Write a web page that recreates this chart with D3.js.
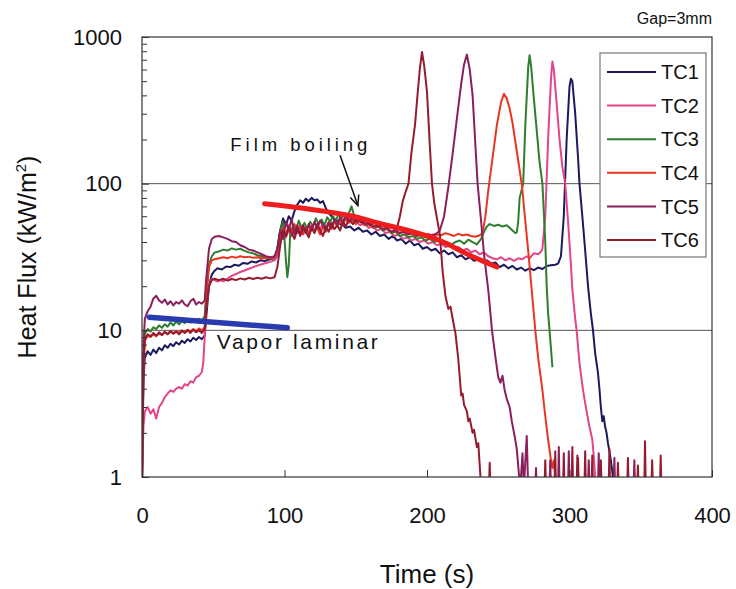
<!DOCTYPE html>
<html>
<head>
<meta charset="utf-8">
<script src="https://cdn.jsdelivr.net/npm/d3@7"></script>
<style>
  html, body { margin: 0; padding: 0; background: #fff; }
  svg { display: block; font-family: "Liberation Sans", Arial, sans-serif; }
</style>
</head>
<body>
<svg id="chart" width="736" height="589"></svg>
<script>
// Heat flux histories at six thermocouples (time in s, heat flux in kW/m²)
const tc1 = [[0,0.9],[1,4.5],[2,6.5],[4,7.2],[6,6.8],[8,7.4],[10,7.0],[12,7.6],[14,7.3],[16,7.9],[18,7.6],[20,8.1],[22,7.8],[24,8.3],[26,8.0],[28,8.5],[30,8.2],[32,8.7],[34,8.4],[36,8.9],[38,8.6],[40,9.0],[42,8.7],[44,9.2],[45,12],[47,20],[49,24],[51,25.5],[53,26.5],[56,26],[59,27.2],[62,27],[65,28],[68,27.6],[71,28.8],[74,28.4],[77,29.5],[80,29],[83,30],[86,29.7],[90,30.5],[93,31],[95,36],[97,48],[99,58],[101,52],[103,60],[105,56],[107,65],[109,72],[111,77],[113,74],[115,79],[117,76],[119,80],[121,77],[123,78],[125,74],[127,76],[129,68],[131,63],[133,60],[135,57],[137,56],[139,53],[141,52],[143,50],[146,51],[149,48],[152,50],[155,47],[158,48],[161,45],[164,47],[167,44],[170,45],[173,42],[176,44],[179,41],[182,42],[185,39],[188,41],[191,38],[194,39],[197,36],[200,37],[203,35],[206,36],[209,33.5],[212,35],[215,33],[218,34],[221,31.5],[224,32.5],[227,30.5],[230,31.5],[233,29.8],[236,30.5],[239,29],[242,30],[245,28.5],[248,29],[251,27],[254,28],[257,26.5],[260,27.5],[263,26],[266,26.8],[269,25.5],[272,26.5],[275,25.7],[278,26.8],[281,26.2],[284,27.5],[287,27.8],[290,28],[292,28.5],[294,32],[296,60],[298,200],[300,460],[301,520],[302,500],[304,300],[306,150],[307,100],[309,60],[311,35],[313,20],[315,13],[316.5,10],[318,7],[320,5.1],[321,4.0],[322,3.0],[323,2.4],[324,2.6],[325,2.2],[326,2.0],[327,1.7],[328,1.5],[329,1.3],[330,1.1],[331,0.85]];

const tc2 = [[0,0.9],[1,2.2],[2,2.8],[4,3.0],[6,2.7],[8,2.9],[10,2.5],[12,3.0],[14,3.2],[16,3.5],[18,3.7],[20,3.9],[22,3.8],[24,4.0],[26,4.1],[28,4.0],[30,4.3],[32,4.2],[34,4.5],[36,4.4],[38,4.8],[40,4.9],[42,5.2],[43,6],[44,9],[45,14],[47,20],[49,22.5],[51,22],[53,21.5],[55,22],[57,21.6],[60,22.5],[63,23.5],[66,24.2],[69,25],[72,25.6],[75,26.3],[78,27],[81,27.6],[84,28.2],[87,28.8],[90,29.3],[93,30],[95,32],[97,40],[99,46],[101,43],[103,48],[105,44],[107,50],[109,46],[111,52],[113,47],[115,51],[117,45],[119,50],[121,48],[123,53],[125,49],[127,54],[129,50],[131,55],[133,51],[135,56],[137,52],[139,57],[141,55],[143,62],[145,60],[147,55],[150,56],[153,52],[156,54],[159,50],[162,51],[165,48],[168,49],[171,46],[174,47],[177,44],[180,45],[183,42],[186,43],[189,41],[192,42],[195,40],[198,41],[201,39],[204,40],[207,38],[210,39],[213,37],[216,38],[219,36],[222,37],[225,35],[228,36],[231,34],[234,35],[237,33],[240,34],[243,32],[246,31],[249,30.5],[252,31.5],[255,30],[258,31],[261,29.8],[264,31],[267,30.5],[270,32],[272,31],[275,33.5],[278,33],[280,34.5],[281,36],[283,60],[285,200],[287,520],[288,680],[289,600],[291,350],[293,200],[295,130],[297,100],[299,55],[301,28],[302,19],[304,12],[305,10],[307,6],[309.5,3.9],[312,2.8],[314,2.2],[316,1.8],[317,1.4],[318,1.0],[319,0.85]];

const tc3 = [[0,0.9],[1,6],[2,9.5],[4,10.2],[6,9.8],[8,10.5],[10,10.2],[12,10.8],[14,10.4],[16,11.0],[18,10.6],[20,11.3],[22,10.8],[24,11.5],[26,11.0],[28,11.6],[30,11.2],[32,11.8],[34,11.3],[36,11.9],[38,11.5],[40,12.0],[42,11.6],[44,12.5],[45,18],[47,28],[49,32],[51,34],[54,34.5],[57,35.5],[60,35],[63,36.2],[66,35.5],[69,36],[72,34.8],[75,34],[78,33.5],[81,32.5],[84,32],[87,31.2],[90,30.8],[93,31.5],[95,36],[97,48],[99,55],[100,42],[101,30],[102,23],[103,28],[104,45],[106,52],[108,48],[110,56],[112,50],[114,54],[116,49],[118,55],[120,51],[122,58],[124,53],[126,57],[128,52],[130,59],[132,55],[134,60],[136,56],[138,62],[140,58],[142,63],[144,59],[146,66],[147,70],[149,60],[151,57],[154,55],[157,52],[160,53],[163,50],[166,51],[169,48],[172,49],[175,46],[178,47],[181,44],[184,45],[187,43],[190,44],[193,42],[196,43],[199,41],[202,42],[205,40],[208,41],[211,39],[214,40],[217,38.5],[220,40],[223,41],[226,39],[229,41.5],[232,40],[235,38.5],[238,42],[240,47],[242,51],[244,53],[247,51.5],[250,52.5],[253,51],[256,52],[258,50],[260,48],[262,46],[263,46.5],[264,55],[265,80],[267.5,100],[269,250],[271,620],[272,750],[273,640],[275,380],[277,230],[279,140],[281,100],[283,40],[284,20],[285,13],[286,10],[287,7.5],[288,5.6]];

const tc4 = [[0,0.9],[1,5],[2,8.5],[4,9.2],[6,9.0],[8,9.4],[10,9.1],[12,9.5],[14,9.3],[16,9.7],[18,9.4],[20,9.8],[22,9.5],[24,9.9],[26,9.6],[28,10.0],[30,9.7],[32,10.1],[34,9.8],[36,10.2],[38,9.9],[40,10.3],[42,10.0],[44,10.5],[45,16],[47,27],[49,30],[51,30.5],[54,31],[57,31.5],[60,31],[63,31.8],[66,31.3],[69,32],[72,31.5],[75,31.8],[78,31.2],[81,31.5],[84,31],[87,31.2],[90,31],[93,31.5],[95,34],[97,42],[99,50],[101,45],[103,52],[105,46],[107,53],[109,47],[111,51],[113,45],[115,50],[117,46],[119,52],[121,47],[123,50],[125,45],[127,51],[129,47],[131,54],[133,49],[135,55],[137,51],[139,56],[141,52],[143,58],[145,54],[147,57],[150,53],[153,56],[156,52],[159,54],[162,50],[165,52],[168,49],[171,50],[174,47],[177,48],[180,46],[183,47],[186,45],[189,46],[192,44],[195,45],[198,44],[201,45.5],[204,44],[207,45],[210,44.5],[213,46],[216,45],[219,44],[222,45.5],[225,44.5],[228,45],[231,44],[234,43.5],[237,44.5],[239,46],[241,60],[243,90],[246,150],[249,250],[252,360],[254,410],[256,380],[258,325],[260,260],[263,167],[266.7,96],[268,70],[271,35],[273.5,18.8],[276,10],[278,6.5],[281,3.9],[283,2.6],[285,1.8],[287,1.3],[288,1.15],[289,1.3],[290,1.0],[291,0.85]];

const tc5 = [[0,0.9],[1,8],[2,12],[4,13.5],[6,14.5],[8,16.5],[10,17.2],[12,16.0],[14,15.4],[16,16.2],[18,15.0],[20,15.8],[22,14.8],[24,15.6],[26,15.2],[28,16.0],[30,15.0],[32,14.6],[34,15.8],[36,16.4],[38,15.0],[40,15.6],[42,15.2],[44,16.0],[45,22],[47,36],[49,42],[51,43.5],[54,44],[57,43],[60,42],[63,40.5],[66,40],[69,38],[72,37],[75,35.5],[78,35],[81,34],[84,33],[87,32],[90,31.5],[93,32],[95,36],[97,48],[99,42],[101,55],[103,48],[105,58],[107,45],[109,52],[111,44],[113,50],[115,46],[117,53],[119,48],[121,55],[123,50],[125,56],[127,52],[129,48],[131,54],[133,50],[135,57],[137,53],[139,59],[141,55],[143,60],[145,56],[148,58],[151,55],[154,56],[157,53],[160,54],[163,51],[166,52],[169,49],[172,50],[175,47],[178,48],[181,46],[184,47],[187,45],[190,46],[193,44],[196,45],[199,43.5],[202,44.5],[205,45],[207,46],[209,48],[212,60],[215,95],[218,160],[221,280],[224,480],[226,650],[228,760],[230,600],[232,400],[234,180],[235.5,100],[238,55],[240,33],[243,18.8],[245.6,10],[248,6.6],[250,4.8],[251.5,4.4],[253,4.9],[254.5,3.9],[256,3.4],[258,3.0],[259.5,2.4],[261.5,1.9],[263,1.55],[264.5,1.05],[265.5,0.85],[267,1.45],[268,0.85],[270,1.9],[271,0.85],[276,0.85],[276.5,1.15],[277,0.85],[286,0.85],[286.5,1.3],[287,0.85],[292,0.85],[292.5,1.6],[293,0.85],[299,0.85],[299.5,1.5],[300,0.85],[305,0.85],[305.5,1.4],[306,0.85],[313,0.85],[313.5,1.3],[314,0.85],[320,0.85],[320.5,1.45],[321,0.85],[331,0.85],[331.5,1.35],[332,0.85],[345,0.85],[345.5,1.3],[346,0.85]];

const tc6 = [[0,0.9],[1,6],[2,8.8],[4,9.4],[6,9.1],[8,9.6],[10,9.2],[12,9.7],[14,9.3],[16,9.8],[18,9.4],[20,9.9],[22,9.5],[24,9.8],[26,9.4],[28,9.9],[30,9.6],[32,10.0],[34,9.6],[36,10.1],[38,9.7],[40,10.0],[42,9.6],[44,10.2],[45,14],[47,20],[49,22],[51,22.5],[54,22],[57,22.5],[60,21.8],[63,22.4],[66,22.0],[69,22.6],[72,22.2],[75,22.8],[78,22.4],[81,22.8],[84,22.5],[87,23],[90,22.6],[93,23],[95,27],[97,38],[99,48],[101,44],[103,50],[105,46],[107,42],[109,49],[111,45],[113,52],[115,47],[117,43],[119,50],[121,46],[123,53],[125,48],[127,44],[129,51],[131,47],[133,54],[135,49],[137,52],[139,48],[141,55],[143,51],[145,57],[148,53],[151,58],[154,54],[157,56],[160,52],[163,55],[166,51],[169,53],[172,50],[175,52],[177,49],[179,50],[181,60],[183,76],[185,88],[187,100],[189,160],[191.6,253],[193.5,420],[195,610],[196.5,790],[198,640],[200,424],[202,180],[203.5,100],[205,75],[207,58],[209,45],[211,25],[213,17],[215,14],[216.5,14.5],[218,12],[220,9.5],[222,6.3],[224,3.6],[225,3.7],[226,3.1],[228,2.8],[229,2.4],[230,2.5],[232,2.0],[233,2.1],[235,1.6],[236,1.7],[237,1.2],[238,0.85],[243.5,0.85],[244,1.25],[244.5,0.85],[282.5,0.85],[283,1.3],[283.5,0.85],[289.5,0.85],[290,1.5],[290.5,0.85],[295.5,0.85],[296,1.45],[296.5,0.85],[301.5,0.85],[302,1.6],[302.5,0.85],[305.5,0.85],[306,1.35],[306.5,0.85],[310.5,0.85],[311,1.5],[311.5,0.85],[315.5,0.85],[316,1.4],[316.5,0.85],[321.5,0.85],[322,1.3],[322.5,0.85],[327.5,0.85],[328,1.55],[328.5,0.85],[333.5,0.85],[334,1.25],[334.5,0.85],[340.5,0.85],[341,1.35],[341.5,0.85],[347.5,0.85],[348,1.2],[348.5,0.85],[352.5,0.85],[353,1.75],[353.5,0.85],[357.5,0.85],[358,1.3],[358.5,0.85],[363.5,0.85],[364,1.4],[364.5,0.85],[366,0.85]];

// Regime trend lines drawn over the measurements
const vaporFit = [[5,12.3],[102,10.4]];
const filmFit = [[86,73],[118,67],[148,60],[167,53.5],[190,47],[209,41],[230,32.5],[249,27]];

const seriesNames = ["TC1","TC2","TC3","TC4","TC5","TC6"];
const seriesData = [tc1, tc2, tc3, tc4, tc5, tc6];
const seriesColors = ["#1c1a5e","#e2458a","#2f7d2f","#e8361f","#8a1f5c","#951b2e"];

const xTicks = [0,100,200,300,400];
const yTicks = [1,10,100,1000];
const yMinor = [2,3,4,5,6,7,8,9,20,30,40,50,60,70,80,90,200,300,400,500,600,700,800,900];
const yGrid = [10,100];

// Annotation anchors in data units
const filmLabel = {text:"Film boiling", t:62, v:168};
const vaporLabel = {text:"Vapor laminar", t:52.5, v:7.45};
const filmArrow = [[139,156],[151.5,71]];

const svg = d3.select("#chart");
const L = 142, R = 712, T = 37, B = 477;
const x = d3.scaleLinear().domain([0,400]).range([L,R]);
const y = d3.scaleLog().domain([1,1000]).range([B,T]);

svg.append("defs").append("clipPath").attr("id","plotClip")
  .append("rect").attr("x",L).attr("y",T).attr("width",R-L).attr("height",B-T);

// gridlines
svg.append("g").selectAll("line").data(yGrid).join("line")
  .attr("x1",L).attr("x2",R).attr("y1",d=>y(d)).attr("y2",d=>y(d))
  .attr("stroke","#555").attr("stroke-width",1);

// data traces
const line = d3.line().x(d=>x(d[0])).y(d=>y(d[1]));
const plot = svg.append("g").attr("clip-path","url(#plotClip)");
seriesData.forEach((s,i)=>{
  plot.append("path").datum(s).attr("d",line)
    .attr("fill","none").attr("stroke",seriesColors[i])
    .attr("stroke-width",2).attr("stroke-linejoin","round");
});

// trend lines
const smooth = d3.line().x(d=>x(d[0])).y(d=>y(d[1])).curve(d3.curveMonotoneX);
plot.append("path").datum(vaporFit).attr("d",smooth)
  .attr("fill","none").attr("stroke","#2a3bb0").attr("stroke-width",5.5).attr("stroke-linecap","round");
plot.append("path").datum(filmFit).attr("d",smooth)
  .attr("fill","none").attr("stroke","#ee1e1e").attr("stroke-width",5).attr("stroke-linecap","round");

// frame
svg.append("rect").attr("x",L).attr("y",T).attr("width",R-L).attr("height",B-T)
  .attr("fill","none").attr("stroke","#333").attr("stroke-width",1.2);

// axes
const fontSize = 22;
const yAxis = svg.append("g").attr("transform",`translate(${L},0)`)
  .call(d3.axisLeft(y).tickValues(yTicks).tickFormat(d3.format("d")).tickSize(-7).tickPadding(20));
const yAxisMinor = svg.append("g").attr("transform",`translate(${L},0)`)
  .call(d3.axisLeft(y).tickValues(yMinor).tickFormat("").tickSize(-5));
const xAxis = svg.append("g").attr("transform",`translate(0,${B})`)
  .call(d3.axisBottom(x).tickValues(xTicks).tickSize(-7).tickPadding(30));
[yAxis,yAxisMinor,xAxis].forEach(g=>{
  g.select(".domain").remove();
  g.selectAll(".tick line").attr("stroke","#333");
  g.selectAll("text").attr("font-size",fontSize).attr("fill","#111")
    .attr("font-family","'Liberation Sans', Arial, sans-serif");
});

// axis titles
svg.append("text").attr("x",(L+R)/2).attr("y",583).attr("text-anchor","middle")
  .attr("font-size",26).attr("fill","#111").text("Time (s)");
const yt = svg.append("text").attr("transform",`translate(36,${(T+B)/2}) rotate(-90)`)
  .attr("text-anchor","middle").attr("font-size",25).attr("fill","#111");
yt.append("tspan").text("Heat Flux (kW/m");
yt.append("tspan").attr("dy",-10).attr("font-size",15).text("2");
yt.append("tspan").attr("dy",10).text(")");

// case label
svg.append("text").attr("x",712).attr("y",24).attr("text-anchor","end")
  .attr("font-size",16).attr("fill","#111").text("Gap=3mm");

// annotations
svg.append("text").attr("x",x(filmLabel.t)).attr("y",y(filmLabel.v))
  .attr("font-size",18.5).attr("fill","#111").attr("textLength",137).attr("lengthAdjust","spacing")
  .text(filmLabel.text);
svg.append("text").attr("x",x(vaporLabel.t)).attr("y",y(vaporLabel.v))
  .attr("font-size",21).attr("fill","#111").attr("textLength",161).attr("lengthAdjust","spacing")
  .text(vaporLabel.text);

const ax1 = x(filmArrow[0][0]), ay1 = y(filmArrow[0][1]);
const ax2 = x(filmArrow[1][0]), ay2 = y(filmArrow[1][1]);
svg.append("line").attr("x1",ax1).attr("y1",ay1).attr("x2",ax2).attr("y2",ay2)
  .attr("stroke","#111").attr("stroke-width",1.5);
const ang = Math.atan2(ay2-ay1, ax2-ax1), hl = 11, hw = 0.42;
svg.append("path")
  .attr("d",`M${ax2-hl*Math.cos(ang-hw)},${ay2-hl*Math.sin(ang-hw)}L${ax2},${ay2}L${ax2-hl*Math.cos(ang+hw)},${ay2-hl*Math.sin(ang+hw)}`)
  .attr("fill","none").attr("stroke","#111").attr("stroke-width",1.5);

// legend
const lg = svg.append("g");
lg.append("rect").attr("x",600).attr("y",53).attr("width",106).attr("height",204)
  .attr("fill","#fff").attr("stroke","#777").attr("stroke-width",1.2);
seriesNames.forEach((n,i)=>{
  const yy = 72 + i*33.6;
  lg.append("line").attr("x1",607).attr("x2",656).attr("y1",yy).attr("y2",yy)
    .attr("stroke",seriesColors[i]).attr("stroke-width",2);
  lg.append("text").attr("x",661).attr("y",yy).attr("dy","0.36em")
    .attr("font-size",20).attr("fill","#111").text(n);
});
</script>
</body>
</html>
